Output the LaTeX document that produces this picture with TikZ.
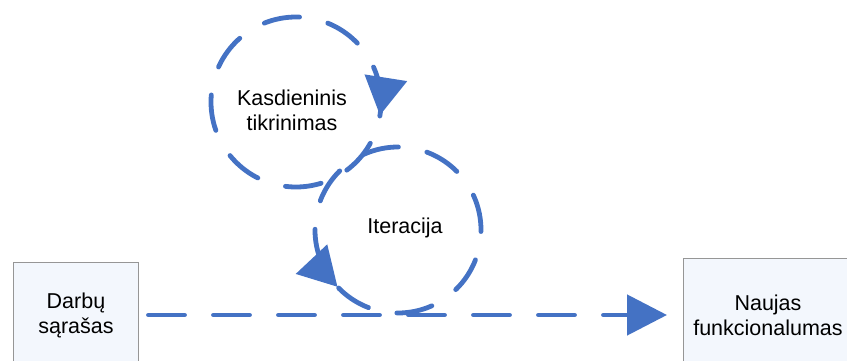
\documentclass[tikz,border=0pt]{standalone}
\usepackage{fontspec}
\setmainfont{Liberation Sans}
\usetikzlibrary{arrows.meta,decorations.markings}
\definecolor{flowblue}{RGB}{68,114,196}
\definecolor{boxfill}{RGB}{243,247,253}
\definecolor{boxline}{RGB}{150,150,150}
\tikzset{
    box/.style={draw=boxline, fill=boxfill, line width=1pt, align=center,
        inner sep=0pt, outer sep=0pt},
    flow/.style={flowblue, line width=4.8pt, line cap=round,
        dash pattern=on 36pt off 29pt},
    bigtip/.style={-{Triangle[length=40pt, width=40pt]}},
}
\begin{document}
\begin{tikzpicture}[x=1pt, y=1pt, font=\fontsize{21.5}{25}\selectfont]
    \useasboundingbox (0, 0) rectangle (847, 360);

    \node [box, minimum width=125pt, minimum height=106pt] (darbai) at (76, 45) {Darbų\\sąrašas};
    \node [box, minimum width=170pt, minimum height=114pt] (naujas) at (768, 45) {Naujas\\funkcionalumas};
    \node [align=center] (kasdien) at (292, 250) {Kasdieninis\\tikrinimas};
    \node (iteracija) at (405, 132) {Iteracija};

    \draw [flow, bigtip, shorten <=10pt, shorten >=16pt] (darbai.east) -- (naujas.west);

    \draw [flow, postaction={decorate}, decoration={markings,
        mark=at position 0.975 with {\arrowreversed{Triangle[length=38pt, width=42pt]}}}]
        ([shift={(4pt, 8pt)}]kasdien.center) circle [radius=85pt];
    \draw [flow, postaction={decorate}, decoration={markings,
        mark=at position 0.62 with {\arrow{Triangle[length=38pt, width=42pt]}}}]
        ([shift={(-7pt, -2pt)}]iteracija.center) circle [radius=83pt];
\end{tikzpicture}
\end{document}
